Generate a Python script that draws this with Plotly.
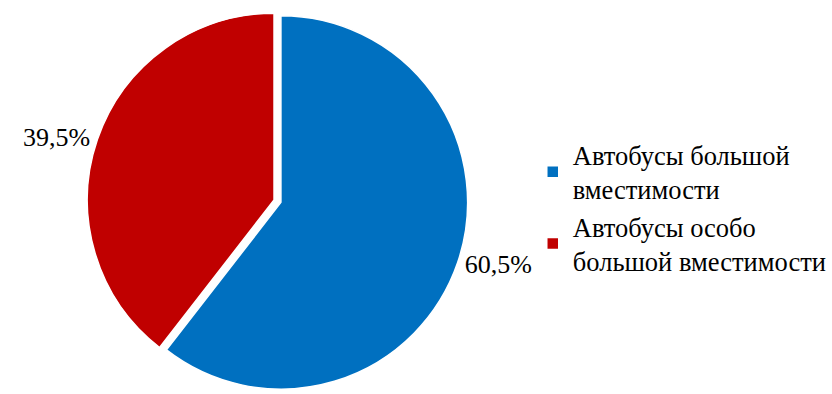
import plotly.graph_objects as go

labels = ["Автобусы большой<br>вместимости", "Автобусы особо<br>большой вместимости"]
values = [60.5, 39.5]
text_labels = ["60,5%", "39,5%"]
colors = ["#0070C0", "#C00000"]
pulls = [0.039, 0.0]

SERIF = "Times New Roman"

fig = go.Figure(go.Pie(
    labels=labels,
    values=values,
    text=text_labels,
    textinfo="text",
    textposition="outside",
    sort=False,
    direction="clockwise",
    rotation=0,
    pull=pulls,
    marker=dict(colors=colors, line=dict(color="white", width=1.5)),
    textfont=dict(family=SERIF, size=26, color="black"),
    domain=dict(x=[0, 0.6635], y=[0, 1]),
    automargin=False,
))

fig.update_layout(
    width=832, height=394,
    margin=dict(l=0, r=0, t=6, b=0),
    paper_bgcolor="white",
    font=dict(family=SERIF, size=26, color="black"),
    showlegend=True,
    legend=dict(
        x=0.645, y=0.48, xanchor="left", yanchor="middle",
        font=dict(family=SERIF, size=26.5, color="black"),
        bgcolor="rgba(0,0,0,0)",
    ),
)

fig.write_html("out.html")
